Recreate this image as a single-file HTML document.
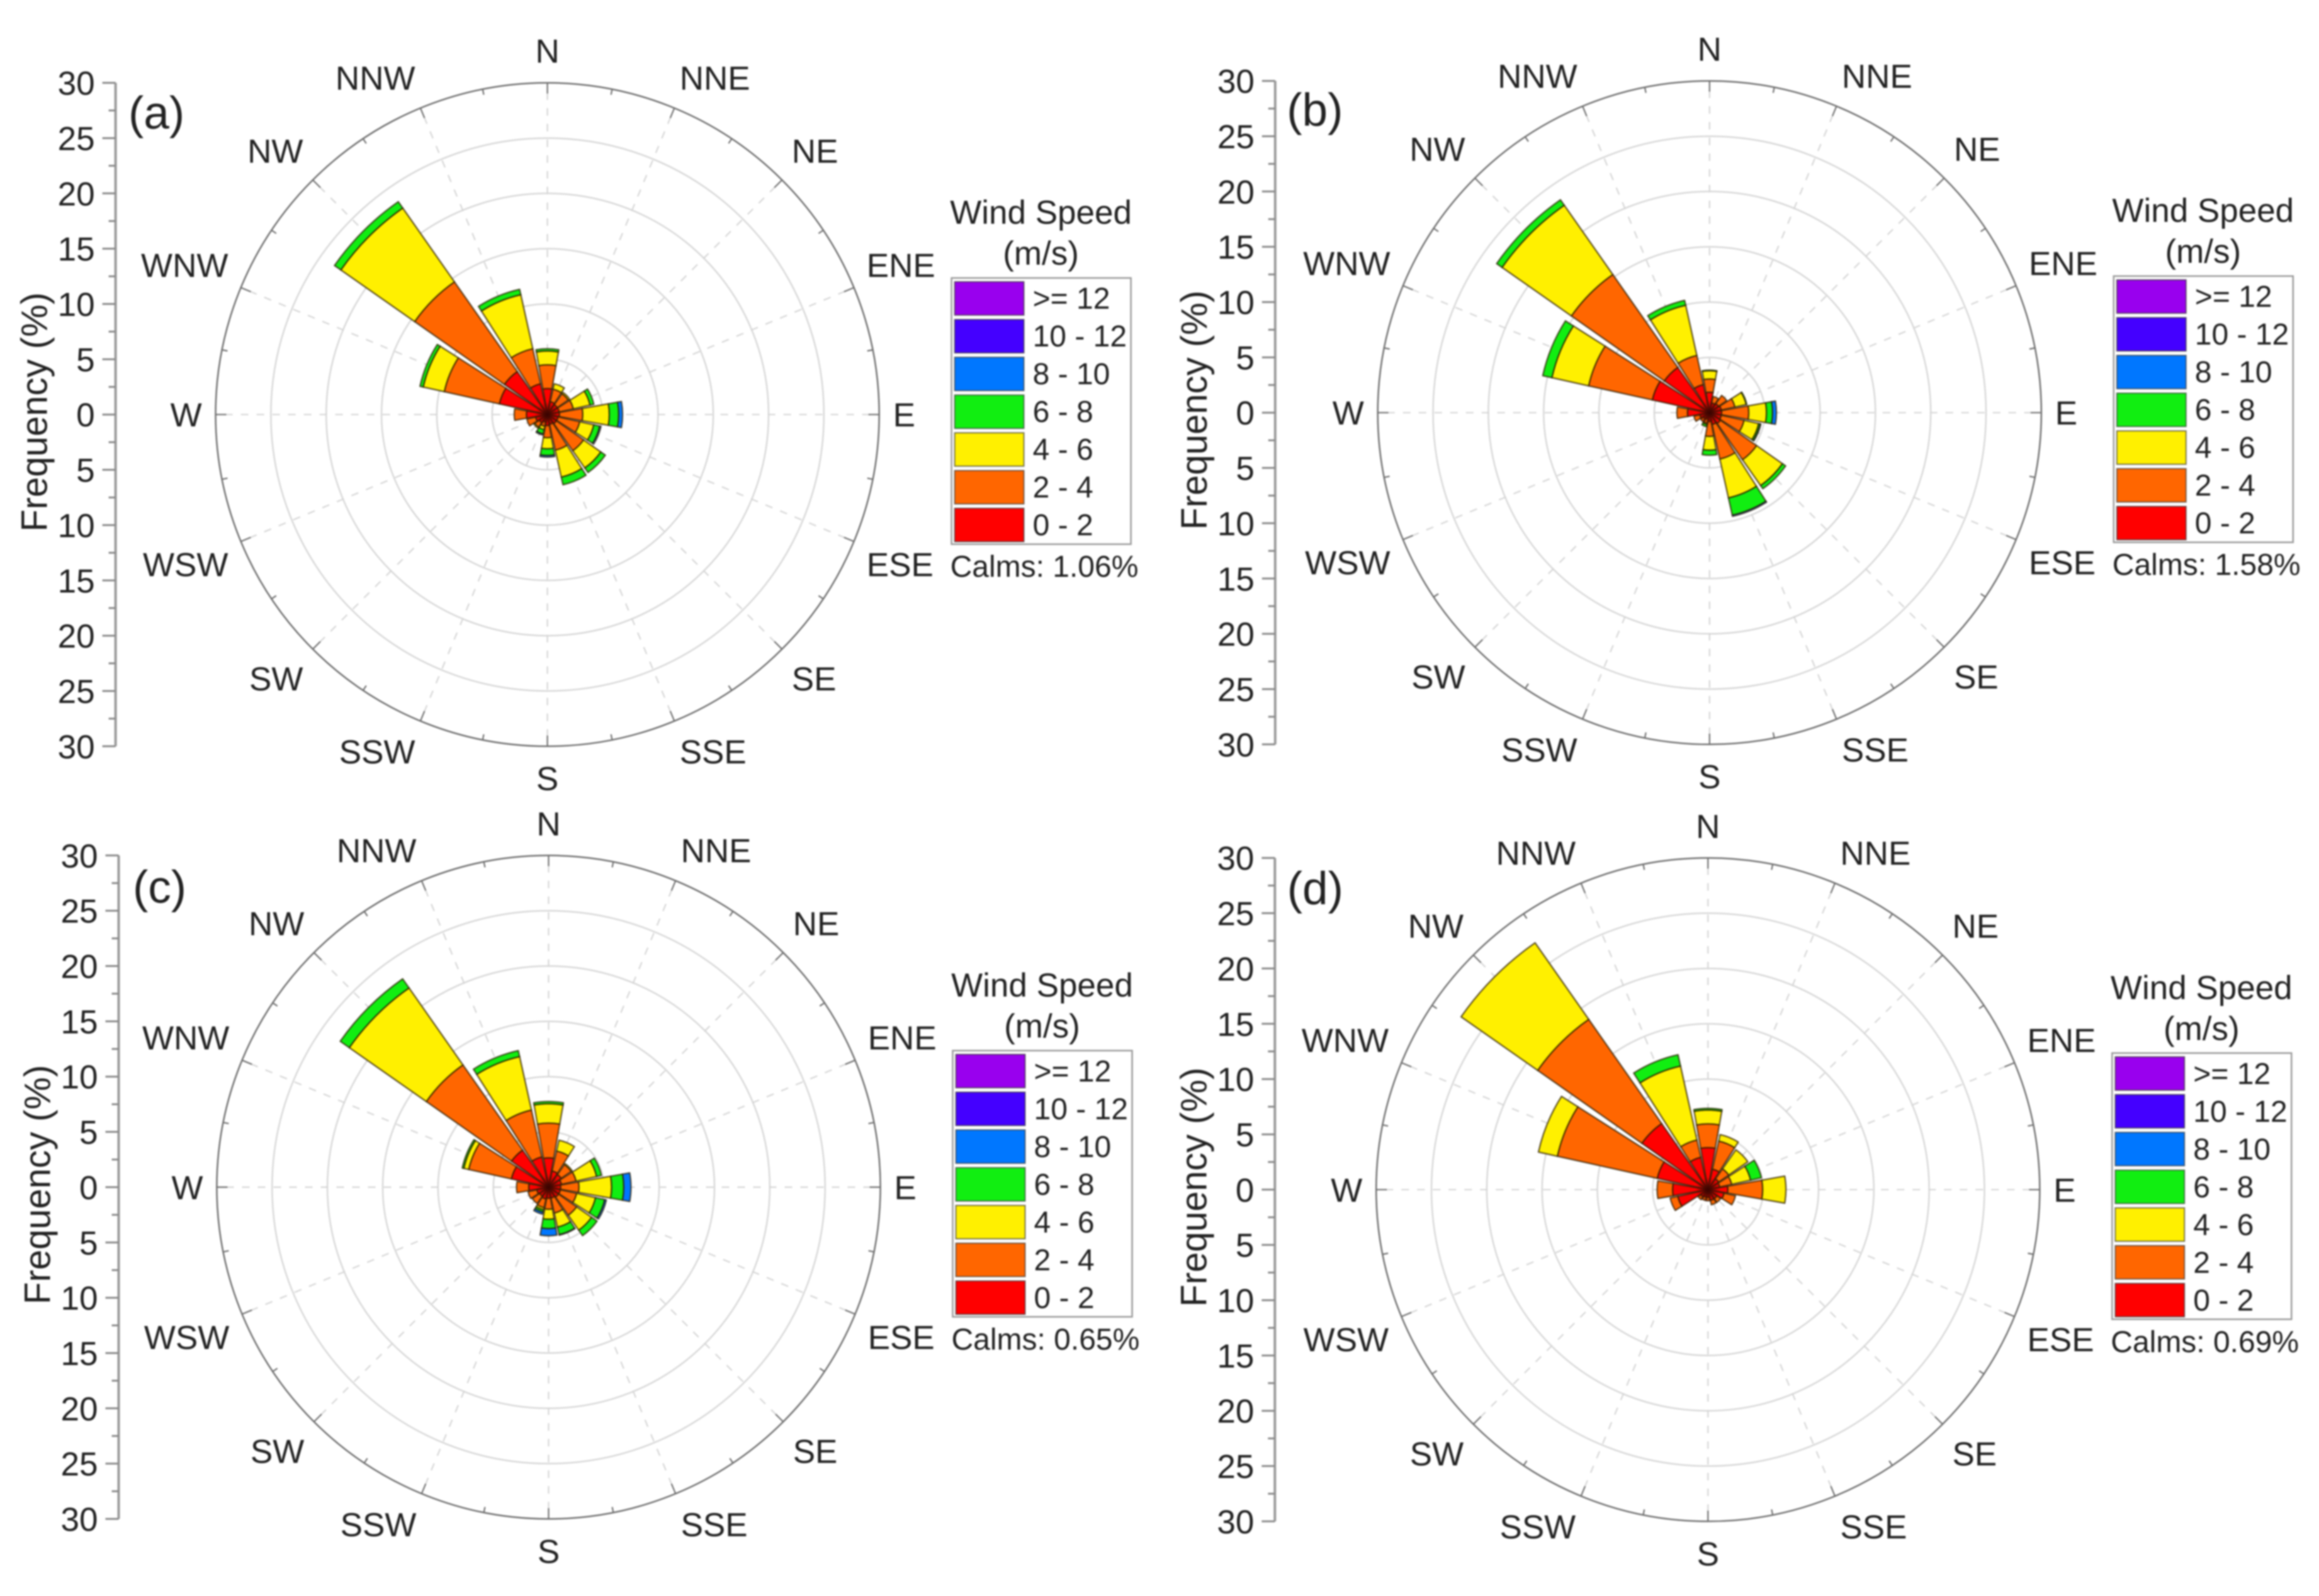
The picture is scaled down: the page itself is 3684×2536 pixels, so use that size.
<!DOCTYPE html>
<html lang="en">
<head>
<meta charset="utf-8">
<title>Wind rose panels</title>
<style>
html,body{margin:0;padding:0;background:#fff;}
svg{display:block;filter:blur(1.2px);}
text{font-family:"Liberation Sans",Arial,sans-serif;fill:#222;}
</style>
</head>
<body>
<svg id="chart" xmlns="http://www.w3.org/2000/svg" width="3684" height="2536" viewBox="0 0 3684 2536">
<defs>
<radialGradient id="hubShade"><stop offset="0" stop-color="#3a0000" stop-opacity="0.95"/><stop offset="0.4" stop-color="#500000" stop-opacity="0.55"/><stop offset="1" stop-color="#600000" stop-opacity="0"/></radialGradient>
</defs>
<rect width="3684" height="2536" fill="#ffffff"/>
</svg>
<script>
const directions = ['N','NNE','NE','ENE','E','ESE','SE','SSE','S','SSW','SW','WSW','W','WNW','NW','NNW'];
const speedLabels = ['0 - 2','2 - 4','4 - 6','6 - 8','8 - 10','10 - 12','>= 12'];
const speedColors = ['#ff0000','#ff6600','#fff000','#11ee11','#0077ff','#4400ff','#9900ee'];
const axisTicks = [30,25,20,15,10,5,0,5,10,15,20,25,30];
const ringValues = [5,10,15,20,25];
const calmsValues = ['1.06','1.58','0.65','0.69'];
const panelNames = ['a','b','c','d'];

// Frequencies (%) per direction, N clockwise to NNW, one array per speed bin
const a0to2 = [2.35,1.2,1.1,1.1,1.1,1.0,1.0,0.9,1.0,0.7,0.9,1.1,1.9,4.45,4.75,2.85];
const a2to4 = [2.15,1.15,1.2,1.3,2.1,2.0,3.0,2.4,1.1,0.4,0.5,0.8,1.1,5.1,9.9,3.25];
const a4to6 = [1.25,0.5,0.15,1.55,2.4,1.3,1.9,2.5,1.0,0.3,0.1,0,0,1.95,8.15,5.0];
const a6to8 = [0.2,0,0,0.35,0.85,0.55,0.5,0.7,0.6,0.4,0,0,0,0.3,0.7,0.5];
const a8to10 = [0,0,0,0,0.35,0.1,0,0,0.15,0.1,0,0,0,0,0,0];
const a10to12 = [0,0,0,0,0,0,0,0,0,0,0,0,0,0,0,0];
const a12up = [0,0,0,0,0,0,0,0,0,0,0,0,0,0,0,0];

const b0to2 = [1.85,0.9,1.0,1.1,1.1,1.1,1.2,1.1,0.8,0.6,0.7,0.9,2.0,5.3,5.0,2.6];
const b2to4 = [1.2,0.6,0.9,1.25,2.45,2.1,4.0,3.2,1.35,0.4,0.3,0.55,0.95,5.9,10.25,2.7];
const b4to6 = [0.75,0,0,1.05,1.6,1.35,2.85,3.6,1.25,0.1,0,0,0,3.4,7.65,4.65];
const b6to8 = [0.05,0,0,0.05,0.55,0.15,0.35,1.6,0.45,0.2,0,0,0,0.85,0.6,0.45];
const b8to10 = [0,0,0,0,0.35,0.05,0,0.1,0,0,0,0,0,0,0,0];
const b10to12 = [0,0,0,0,0,0,0,0,0,0,0,0,0,0,0,0];
const b12up = [0,0,0,0,0,0,0,0,0,0,0,0,0,0,0,0];

const c0to2 = [2.65,1.5,1.4,1.2,1.1,1.1,1.1,1.0,1.0,1.1,1.0,1.1,1.8,3.45,4.1,2.8];
const c2to4 = [3.15,1.85,1.1,1.35,1.65,1.5,2.0,1.4,1.0,0.8,0.8,0.8,1.1,3.95,9.4,4.35];
const c4to6 = [1.75,1.0,0.1,1.9,2.95,1.75,1.65,1.3,0.9,0.2,0,0,0,0.45,8.5,4.95];
const c6to8 = [0.2,0,0,0.45,1.1,0.85,0.6,0.7,0.85,0.2,0,0,0,0.15,1.0,0.55];
const c8to10 = [0,0,0,0,0.65,0.15,0,0.05,0.65,0.2,0,0,0,0,0,0];
const c10to12 = [0,0,0,0,0,0,0,0,0,0,0,0,0,0,0,0];
const c12up = [0,0,0,0,0,0,0,0,0,0,0,0,0,0,0,0];

const d0to2 = [3.8,1.9,1.2,1.1,1.8,1.5,1.0,1.0,0.7,0.7,0.8,2.8,3.2,4.7,7.3,3.0];
const d2to4 = [2.15,2.6,1.1,1.1,3.15,1.05,0.4,0.4,0.3,0.3,0.3,0.7,1.4,9.25,11.5,1.6];
const d4to6 = [1.25,0.6,2.1,1.75,2.1,0,0,0,0,0,0,0,0,1.75,8.45,6.85];
const d6to8 = [0.15,0,0,1.0,0,0,0,0,0,0,0,0,0,0,0,1.05];
const d8to10 = [0,0,0,0,0,0,0,0,0,0,0,0,0,0,0,0];
const d10to12 = [0,0,0,0,0,0,0,0,0,0,0,0,0,0,0,0];
const d12up = [0,0,0,0,0,0,0,0,0,0,0,0,0,0,0,0];

const seriesA = [a0to2,a2to4,a4to6,a6to8,a8to10,a10to12,a12up];
const seriesB = [b0to2,b2to4,b4to6,b6to8,b8to10,b10to12,b12up];
const seriesC = [c0to2,c2to4,c4to6,c6to8,c8to10,c10to12,c12up];
const seriesD = [d0to2,d2to4,d4to6,d6to8,d8to10,d10to12,d12up];

const NS = 'http://www.w3.org/2000/svg';
const root = document.getElementById('chart');
const PX_PER_PCT = 17.57;
const MAX_PCT = 30;
const WEDGE_DEG = 20;

function rScale(v){ return v * PX_PER_PCT; }
function dirAngle(i){ return i * 22.5; }
function polar(cx,cy,r,deg){
  const t = deg * Math.PI / 180;
  return [cx + r * Math.sin(t), cy - r * Math.cos(t)];
}
function make(tag, parent){
  const el = document.createElementNS(NS, tag);
  parent.appendChild(el);
  return el;
}
function set(el, props){
  for (const k in props) el.setAttribute(k, props[k]);
  return el;
}
function wedgePath(cx,cy,r0,r1,a0,a1){
  const p1 = polar(cx,cy,r0,a0), p2 = polar(cx,cy,r1,a0), p3 = polar(cx,cy,r1,a1), p4 = polar(cx,cy,r0,a1);
  return 'M'+p1[0]+' '+p1[1]+'L'+p2[0]+' '+p2[1]+'A'+r1+' '+r1+' 0 0 1 '+p3[0]+' '+p3[1]+'L'+p4[0]+' '+p4[1]+'A'+r0+' '+r0+' 0 0 0 '+p1[0]+' '+p1[1]+'Z';
}

function drawPanel(index, series, cx, cy, axisDx, tagDx, tagDy){
  const id = panelNames[index];
  const g = make('g', root);
  
  
  const R = rScale(MAX_PCT);

  ringValues.forEach(function(v){
    const ring = make('circle', g);
    
    
    set(ring, {cx:cx, cy:cy, r:rScale(v), fill:'none', stroke:'#d8d8d8', 'stroke-width':2.5});
  });

  directions.forEach(function(name,i){
    const end = polar(cx,cy,R,dirAngle(i));
    const spoke = make('line', g);
    
    
    set(spoke, {x1:cx, y1:cy, x2:end[0], y2:end[1], stroke:'#d6d6d6', 'stroke-width':2.2, 'stroke-dasharray':'12 13'});
  });

  const outer = make('circle', g);
  
  
  set(outer, {cx:cx, cy:cy, r:R, fill:'none', stroke:'#707070', 'stroke-width':2.5});

  directions.forEach(function(name,i){
    [0,11.25].forEach(function(off, k){
      const a = dirAngle(i) + off;
      const p1 = polar(cx,cy,R,a), p2 = polar(cx,cy,R - (k === 0 ? 17 : 9),a);
      const tick = make('line', g);
      
      
      set(tick, {x1:p1[0], y1:p1[1], x2:p2[0], y2:p2[1], stroke:'#707070', 'stroke-width':2.2});
    });
    const t = dirAngle(i) * Math.PI / 180;
    const sx = Math.sin(t), sy = Math.cos(t);
    const label = make('text', g);
    
    
    const snap = Math.abs(sx) < 0.01;
    const flat = Math.abs(sy) < 0.01;
    const nudge = (snap || flat || Math.abs(sy) > 0.9) ? 0 : (sy > 0 ? -5 : 5);
    set(label, {x:cx + 549*sx, y:cy - 559*sy + (flat ? 0 : (sy > 0 ? -19 : 19)) + 19 + nudge, 'font-size':53, 'text-anchor': snap ? 'middle' : (sx > 0 ? 'start' : 'end')});
    label.textContent = name;
  });

  // stacked wedges
  directions.forEach(function(name,i){
    let total = 0;
    series.forEach(function(values,b){
      const v = values[i];
      if (v > 0) {
        const seg = make('path', g);
        
        
        set(seg, {d:wedgePath(cx,cy,rScale(total),rScale(total+v),dirAngle(i)-WEDGE_DEG/2,dirAngle(i)+WEDGE_DEG/2), fill:speedColors[b], stroke:'#2a1a00', 'stroke-opacity':0.72, 'stroke-width':2.3, 'stroke-linejoin':'round'});
      }
      total += v;
    });
  });
  const hub = make('circle', g);
  
  
  set(hub, {cx:cx, cy:cy, r:20, fill:'url(#hubShade)'});

  // left frequency axis
  const ax = cx + axisDx;
  const axis = make('line', g);
  
  
  set(axis, {x1:ax, y1:cy-R, x2:ax, y2:cy+R, stroke:'#9a9a9a', 'stroke-width':4});
  axisTicks.forEach(function(v,i){
    const y = cy + (i - 6) * rScale(5);
    const tick = make('line', g);
    
    
    set(tick, {x1:ax-21, y1:y, x2:ax, y2:y, stroke:'#8a8a8a', 'stroke-width':3});
    const lab = make('text', g);
    
    
    set(lab, {x:ax-33, y:y+19, 'font-size':53, 'text-anchor':'end'});
    lab.textContent = v;
    if (i < axisTicks.length - 1) {
      const my = y + rScale(2.5);
      const minor = make('line', g);
      
      
      set(minor, {x1:ax-11, y1:my, x2:ax, y2:my, stroke:'#8a8a8a', 'stroke-width':3});
    }
  });
  const title = make('text', g);
  
  
  set(title, {x:0, y:0, 'font-size':58, 'text-anchor':'middle', transform:'translate('+(ax-109)+' '+(cy-4)+') rotate(-90)'});
  title.textContent = 'Frequency (%)';

  // panel tag
  const tag = make('text', g);
  
  
  set(tag, {x:cx+tagDx, y:cy+tagDy+26, 'font-size':73, 'text-anchor':'middle'});
  tag.textContent = '(' + id + ')';

  // legend
  const lg = make('g', g);
  
  
  const t1 = make('text', lg);
  
  
  set(t1, {x:cx+784, y:cy-303, 'font-size':53, 'text-anchor':'middle'});
  t1.textContent = 'Wind Speed';
  const t2 = make('text', lg);
  
  
  set(t2, {x:cx+784, y:cy-238, 'font-size':53, 'text-anchor':'middle'});
  t2.textContent = '(m/s)';
  const box = make('rect', lg);
  
  
  set(box, {x:cx+642, y:cy-217, width:285, height:423, fill:'#ffffff', stroke:'#9a9a9a', 'stroke-width':2.5});
  for (let b = speedLabels.length - 1, row = 0; b >= 0; b--, row++) {
    const y = cy - 211 + row * 60;
    const sw = make('rect', lg);
    
    
    set(sw, {x:cx+647, y:y, width:110, height:53, fill:speedColors[b], stroke:'#333', 'stroke-opacity':0.65, 'stroke-width':2});
    const sl = make('text', lg);
    
    
    set(sl, {x:cx+771, y:y+43, 'font-size':48});
    sl.textContent = speedLabels[b];
  }
  const calms = make('text', lg);
  
  
  set(calms, {x:cx+640, y:cy+258, 'font-size':48});
  calms.textContent = 'Calms: ' + calmsValues[index] + '%';
}

drawPanel(0, seriesA, 869.6, 658.7, -686, -621, -480);
drawPanel(1, seriesB, 2715.8, 655.7, -690, -627, -482);
drawPanel(2, seriesC, 871.5, 1886.4, -683, -618, -478);
drawPanel(3, seriesD, 2713.3, 1890.3, -688, -624, -480);
</script>
</body>
</html>
